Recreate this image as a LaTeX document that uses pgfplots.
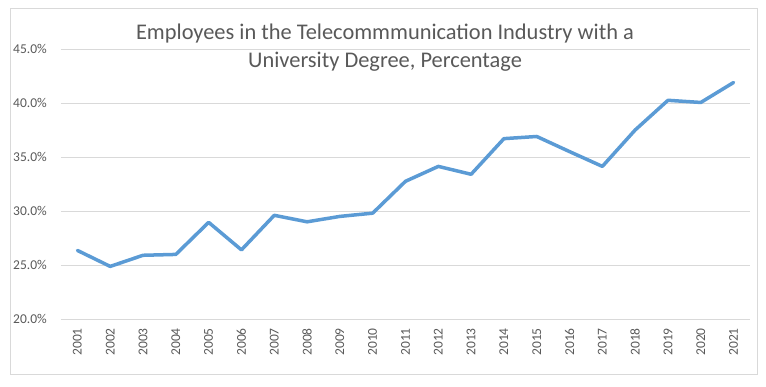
\documentclass[border=0pt]{standalone}
\usepackage{fontspec}
\setmainfont{Carlito}
\usepackage{pgfplots}
\pgfplotsset{compat=1.18}
\definecolor{txt}{HTML}{595959}
\definecolor{gridc}{HTML}{D9D9D9}
\definecolor{lineblue}{HTML}{5B9BD5}
\begin{document}
\begin{tikzpicture}
\begin{axis}[
  scale only axis,
  width=689pt, height=270pt,
  at={(0pt,0pt)}, anchor=south west,
  xmin=2000.5, xmax=2021.5,
  ymin=20, ymax=45,
  ytick={20,25,30,35,40,45},
  xtick={2001,2002,...,2021},
  ymajorgrids,
  grid style={gridc, line width=0.8pt},
  axis line style={draw=none},
  major tick length=0pt,
  tick style={draw=none},
  /pgf/number format/assume math mode=true,
  xticklabel style={font=\fontsize{13.5pt}{15pt}\selectfont, text=txt, yshift=-9pt, rotate=90, anchor=east, inner sep=0pt},
  yticklabel style={font=\fontsize{13.5pt}{15pt}\selectfont, text=txt, anchor=east, inner sep=0pt, xshift=-14pt},
  yticklabel={\pgfmathprintnumber[fixed,fixed zerofill,precision=1]{\tick}\%},
  xticklabel={\pgfmathprintnumber[1000 sep={}]{\tick}},
  clip=false,
]
\addplot[lineblue, line width=3.5pt, line join=round, line cap=round, mark=none] coordinates {
(2001,26.35) (2002,24.87) (2003,25.9) (2004,25.98) (2005,28.95)
(2006,26.4) (2007,29.6) (2008,29.0) (2009,29.5) (2010,29.8)
(2011,32.75) (2012,34.13) (2013,33.4) (2014,36.7) (2015,36.9)
(2016,35.5) (2017,34.13) (2018,37.5) (2019,40.25) (2020,40.05)
(2021,41.9)
};
\end{axis}
\draw[gridc, line width=0.8pt] (-51pt,-55pt) rectangle (696pt,311pt);
\node[anchor=base, align=center, text=txt, font=\fontsize{22.4pt}{28pt}\selectfont, inner sep=0pt] at (324pt,251pt) {Employees in the Telecommmunication Industry with a\\University Degree, Percentage};
\pgfresetboundingbox
\path[use as bounding box] (-61pt,-67pt) rectangle (705pt,319pt);
\end{tikzpicture}
\end{document}
